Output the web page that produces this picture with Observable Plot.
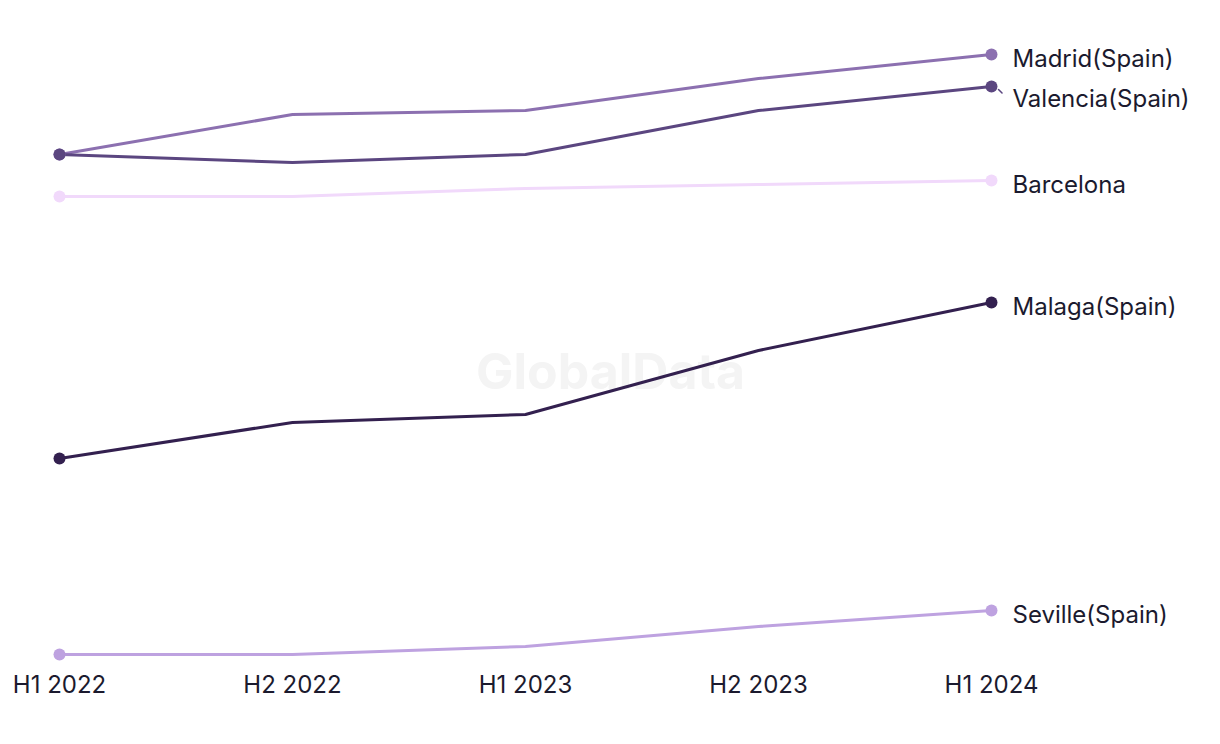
<!DOCTYPE html>
<html>
<head>
<meta charset="utf-8">
<script src="https://cdn.jsdelivr.net/npm/d3@7"></script>
<script src="https://cdn.jsdelivr.net/npm/@observablehq/plot@0.6"></script>
<style>
  html, body { margin: 0; padding: 0; background: #ffffff; }
  #chart { position: relative; width: 1220px; height: 744px; }
</style>
</head>
<body>
<div id="chart"></div>
<script>
// ---- Data ----
const periods = ["H1 2022", "H2 2022", "H1 2023", "H2 2023", "H1 2024"];
const cities = ["Madrid(Spain)", "Valencia(Spain)", "Barcelona", "Malaga(Spain)", "Seville(Spain)"];
const madrid    = [22.5, 23.5, 23.6, 24.4, 25.0];
const valencia  = [22.5, 22.3, 22.5, 23.6, 24.2];
const barcelona = [21.45, 21.45, 21.65, 21.75, 21.85];
const malaga    = [14.9, 15.8, 16.0, 17.6, 18.8];
const seville   = [10.0, 10.0, 10.2, 10.7, 11.1];
const colors = ["#8c70b0", "#5b4680", "#f1d9fb", "#33204f", "#bea2e0"];

const seriesValues = [madrid, valencia, barcelona, malaga, seville];
const rows = [];
cities.forEach((c, i) => periods.forEach((p, j) => rows.push({city: c, period: p, value: seriesValues[i][j]})));
const lastPeriod = periods[periods.length - 1];
const last = rows.filter(d => d.period === lastPeriod);

const W = 1220, H = 744;
const mTop = 54, mBottom = 90, mLeft = 58, mRight = 228;
const yDomain = [10, 25];

// label collision avoidance (in pixel space, mapped back to data space)
const yPix = d3.scaleLinear().domain(yDomain).range([H - mBottom, mTop]);
const labels = last.map(d => ({...d, py: yPix(d.value)})).sort((a, b) => a.py - b.py);
for (let i = 1; i < labels.length; i++) {
  if (labels[i].py - labels[i - 1].py < 40) labels[i].py = labels[i - 1].py + 40;
}
labels.forEach(d => { d.labelValue = yPix.invert(d.py); d.moved = d.py - yPix(d.value) > 0.5; });
const moved = labels.filter(d => d.moved);

const FONT = "Inter, 'Noto Sans', sans-serif";

const leader = {
  draw(context, l) { context.moveTo(0, 0); context.lineTo(0, -l); }
};

const plot = Plot.plot({
  width: W,
  height: H,
  marginTop: mTop,
  marginBottom: mBottom,
  marginLeft: mLeft,
  marginRight: mRight,
  style: {fontFamily: FONT, background: "#ffffff", color: "#1b1a2e"},
  x: {type: "point", domain: periods, padding: 0, label: null},
  y: {domain: yDomain, axis: null},
  color: {domain: cities, range: colors},
  marks: [
    Plot.text(["GlobalData"], {
      frameAnchor: "middle", dx: 85, dy: 18,
      fontSize: 50, fontWeight: "bold", fill: "#f4f4f4"
    }),
    Plot.axisX({tickSize: 0, tickPadding: 21, fontSize: 24, fill: "#1b1a2e", label: null}),
    Plot.line(rows, {x: "period", y: "value", z: "city", stroke: "city", strokeWidth: 3}),
    Plot.dot(rows.filter(d => d.period === periods[0] || d.period === lastPeriod),
      {x: "period", y: "value", fill: "city", r: 6}),
    Plot.vector(moved, {
      x: "period", y: "value", dx: 7, dy: 3,
      length: 5, rotate: 135, anchor: "start", shape: leader,
      stroke: "city", strokeWidth: 1.5
    }),
    Plot.text(labels, {
      x: "period", y: "labelValue", text: "city",
      dx: 21, dy: 5, textAnchor: "start",
      fontSize: 24, fill: "#1b1a2e"
    })
  ]
});
document.getElementById("chart").appendChild(plot);
</script>
</body>
</html>
